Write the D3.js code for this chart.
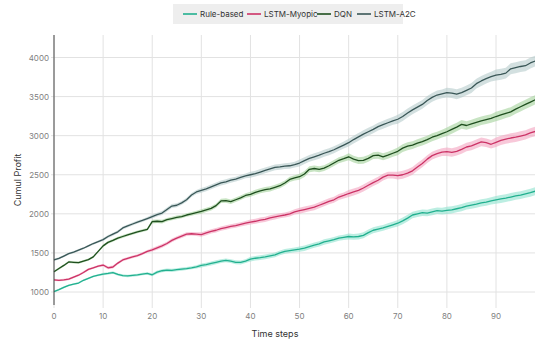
<!DOCTYPE html>
<html lang="en">
<head>
<meta charset="utf-8">
<title>Cumul Profit</title>
<script src="https://cdn.jsdelivr.net/npm/d3@7"></script>
<style>
    body { margin: 0; background: #fff; }
    svg text { font-family: Inter, Roboto, "DejaVu Sans", sans-serif; }
</style>
</head>
<body>
<svg id="chart" width="535" height="339"></svg>
<script>
// values (cumulative profit per time step)
const steps = d3.range(0, 100);
const xTicks = [0, 10, 20, 30, 40, 50, 60, 70, 80, 90];
const yTicks = [1000, 1500, 2000, 2500, 3000, 3500, 4000];

const ruleBased = [1005,1030,1060,1085,1100,1115,1150,1175,1200,1215,1230,1238,1248,1225,1210,1205,1212,1218,1230,1238,
    1220,1255,1272,1280,1276,1285,1292,1300,1310,1322,1340,1350,1365,1380,1395,1405,1395,1380,1378,1395,
    1420,1432,1440,1450,1462,1475,1500,1520,1530,1540,1548,1560,1580,1600,1615,1640,1655,1670,1690,1700,
    1710,1705,1710,1725,1760,1790,1805,1820,1840,1860,1880,1910,1945,1985,2000,2015,2010,2025,2040,2035,
    2045,2050,2065,2080,2100,2112,2125,2140,2150,2165,2178,2190,2200,2215,2230,2240,2255,2270,2290,2300];
const lstmMyopic = [1155,1150,1155,1165,1190,1215,1250,1290,1310,1330,1345,1310,1320,1370,1410,1430,1450,1465,1490,1520,
    1540,1565,1590,1620,1660,1690,1715,1740,1745,1740,1735,1755,1775,1790,1810,1825,1840,1850,1865,1880,
    1895,1905,1920,1930,1948,1962,1975,1985,2000,2025,2040,2055,2070,2085,2110,2135,2160,2180,2215,2235,
    2260,2280,2300,2330,2365,2400,2430,2470,2495,2495,2488,2500,2520,2550,2600,2645,2700,2745,2770,2790,
    2795,2785,2800,2825,2855,2870,2895,2920,2910,2890,2915,2940,2955,2970,2980,2995,3010,3035,3055,3070];
const dqn = [1260,1300,1340,1385,1380,1375,1395,1415,1450,1520,1590,1635,1660,1690,1710,1730,1750,1770,1785,1800,
    1900,1905,1900,1925,1940,1955,1965,1985,2000,2015,2030,2050,2070,2105,2165,2170,2155,2180,2205,2235,
    2250,2275,2295,2310,2320,2340,2360,2395,2440,2460,2475,2510,2570,2580,2570,2585,2615,2650,2685,2705,
    2730,2700,2680,2685,2710,2745,2750,2730,2750,2775,2800,2840,2865,2880,2905,2925,2950,2980,3000,3025,
    3050,3080,3110,3145,3130,3150,3170,3190,3205,3220,3245,3265,3285,3305,3340,3370,3400,3430,3460,3480];
const lstmA2c = [1410,1430,1460,1490,1510,1535,1560,1590,1620,1645,1670,1710,1740,1770,1820,1845,1870,1895,1915,1940,
    1965,1990,2010,2055,2100,2110,2140,2180,2240,2280,2300,2320,2345,2370,2395,2410,2430,2445,2465,2485,
    2500,2515,2535,2555,2575,2595,2600,2610,2615,2630,2650,2680,2710,2730,2750,2775,2795,2820,2850,2880,
    2910,2950,2985,3020,3050,3080,3115,3140,3165,3190,3210,3245,3290,3330,3365,3400,3450,3490,3520,3535,
    3550,3545,3530,3550,3580,3610,3665,3700,3730,3755,3775,3785,3800,3855,3870,3885,3895,3930,3955,3975];

// half width of the shaded band, one value per block of 10 steps
const ruleBasedBand  = [12, 16, 20, 25, 30, 34, 38, 42, 46, 50];
const lstmMyopicBand = [14, 18, 23, 28, 33, 38, 44, 50, 55, 60];
const dqnBand        = [14, 18, 23, 28, 33, 38, 44, 50, 55, 60];
const lstmA2cBand    = [14, 19, 25, 31, 37, 44, 50, 57, 63, 70];

const seriesNames = ['Rule-based', 'LSTM-Myopic', 'DQN', 'LSTM-A2C'];

const series = [
    {name: seriesNames[0], values: ruleBased,  band: ruleBasedBand,  line: '#22b08f', fill: '#8fe3cf'},
    {name: seriesNames[1], values: lstmMyopic, band: lstmMyopicBand, line: '#cc3366', fill: '#f3a3bf'},
    {name: seriesNames[2], values: dqn,        band: dqnBand,        line: '#1f4f1f', fill: '#a3d29b'},
    {name: seriesNames[3], values: lstmA2c,    band: lstmA2cBand,    line: '#3a5757', fill: '#b5cbcc'}
];

const svg = d3.select('#chart');
const plotTop = 35, plotBottom = 308;

const x = d3.scaleLinear().domain([0, 90]).range([54, 496]);
const y = d3.scaleLinear().domain([1000, 4000]).range([292, 57.5]);

// grid
const grid = svg.append('g');
grid.selectAll('.vg').data(xTicks).enter().append('line')
    .attr('x1', d => x(d)).attr('x2', d => x(d))
    .attr('y1', plotTop).attr('y2', plotBottom)
    .attr('stroke', '#e2e2e2').attr('stroke-width', 1);
grid.selectAll('.hg').data(yTicks).enter().append('line')
    .attr('x1', 51).attr('x2', 535)
    .attr('y1', d => y(d)).attr('y2', d => y(d))
    .attr('stroke', '#e2e2e2').attr('stroke-width', 1);

// bands then lines
const area = d3.area()
    .x((d, i) => x(steps[i]))
    .y0(d => y(d.v - d.b))
    .y1(d => y(d.v + d.b));
const line = d3.line()
    .x((d, i) => x(steps[i]))
    .y(d => y(d));

series.forEach(s => {
    const pts = s.values.map((v, i) => ({v: v, b: s.band[Math.floor(i / 10)]}));
    svg.append('path')
        .attr('d', area(pts))
        .attr('fill', s.fill)
        .attr('fill-opacity', 0.6);
});
series.forEach(s => {
    svg.append('path')
        .attr('d', line(s.values))
        .attr('fill', 'none')
        .attr('stroke', s.line)
        .attr('stroke-width', 1.3)
        .attr('stroke-linejoin', 'round');
});

// left axis line
svg.append('line')
    .attr('x1', 54).attr('x2', 54)
    .attr('y1', plotTop).attr('y2', 305)
    .attr('stroke', '#444').attr('stroke-width', 1);

// tick labels
svg.selectAll('.yt').data(yTicks).enter().append('text')
    .attr('x', 49).attr('y', d => y(d) + 3)
    .attr('text-anchor', 'end')
    .attr('font-size', 8)
    .attr('fill', '#808080')
    .text(d => d);
svg.selectAll('.xt').data(xTicks).enter().append('text')
    .attr('x', d => x(d)).attr('y', 319)
    .attr('text-anchor', 'middle')
    .attr('font-size', 8)
    .attr('fill', '#808080')
    .text(d => d);

// axis titles
svg.append('text')
    .attr('x', 275).attr('y', 337)
    .attr('text-anchor', 'middle')
    .attr('font-size', 9)
    .attr('fill', '#333')
    .text('Time steps');
svg.append('text')
    .attr('transform', 'translate(21,180) rotate(-90)')
    .attr('text-anchor', 'middle')
    .attr('font-size', 9)
    .attr('fill', '#333')
    .text('Cumul Profit');

// legend
const legend = svg.append('g');
legend.append('rect')
    .attr('x', 173).attr('y', 4)
    .attr('width', 230).attr('height', 20)
    .attr('fill', '#eeeeee');
const legendX = [183, 247, 317, 357];
series.forEach((s, i) => {
    legend.append('line')
        .attr('x1', legendX[i]).attr('x2', legendX[i] + 14)
        .attr('y1', 14).attr('y2', 14)
        .attr('stroke', s.line).attr('stroke-width', 1.6);
    legend.append('text')
        .attr('x', legendX[i] + 17).attr('y', 17)
        .attr('font-size', 8)
        .attr('fill', '#333')
        .text(s.name);
});
</script>
</body>
</html>
